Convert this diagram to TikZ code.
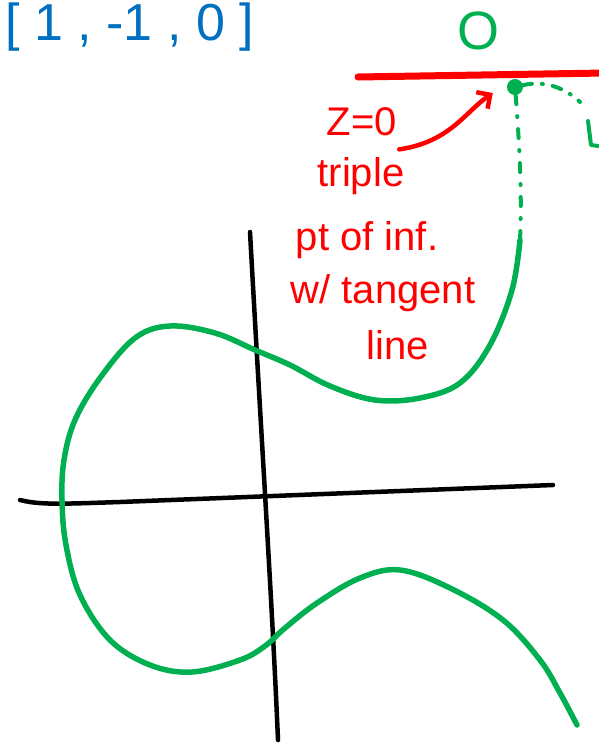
\documentclass[tikz,border=0pt]{standalone}
\usepackage{fontspec}
\setmainfont{Liberation Sans}
\definecolor{InkBlue}{RGB}{0,112,192}
\definecolor{InkGreen}{RGB}{0,176,80}
\definecolor{InkRed}{RGB}{255,0,0}
\usetikzlibrary{arrows.meta, calc, positioning}

\begin{document}
\begin{tikzpicture}[x=1pt, y=-1pt, line cap=round, line join=round,
    redtext/.style={text=InkRed, font=\fontsize{40}{40}\selectfont, inner sep=0pt}]
  \useasboundingbox (0,0) rectangle (599,745);
  % axes
  \draw[line width=4.5pt] (250,232) .. controls (262,450) and (272,600) .. (278,740);
  \draw[line width=4.5pt] (20,500) .. controls (40,505) and (60,504) .. (120,502) -- (553,485);
  % the curve
  \draw[InkGreen, line width=5.5pt] plot[smooth, tension=0.6] coordinates {
    (520,240) (512,290) (490,345) (460,383) (420,398) (375,400) (330,386) (290,365)
    (255,350) (215,333) (170,326) (135,338) (100,378) (75,420) (64,460) (62,500)
    (66,545) (80,595) (110,640) (150,665) (192,672) (240,660) (265,646) (285,628)
    (317,603) (360,578) (400,570) (450,588) (503,620) (540,660) (560,693) (577,725)};
  % line at infinity
  \draw[InkRed, line width=7pt] (358,77) -- (605,73);
  \node[circle, fill=InkGreen, inner sep=0pt, minimum size=16pt] (inf) at (515,87) {};
  \draw[InkGreen, line width=4pt, dash pattern=on 9pt off 12pt on 1pt off 12pt]
    (inf) .. controls (520,150) and (522,200) .. (520,240);
  \draw[InkGreen, line width=4pt, dash pattern=on 9pt off 10pt on 1pt off 10pt]
    (inf) .. controls (545,80) and (565,88) .. (580,102);
  \draw[InkGreen, line width=4pt] (588,121) -- (591,145) -- (598,146);
  % labels
  \node[text=InkBlue, font=\fontsize{52}{52}\selectfont, anchor=west] (coords) at (2,27) {[ 1 , -1 , 0 ]};
  \node[text=InkGreen, font=\fontsize{54}{54}\selectfont] (origin) at (478,31) {O};
  \node[redtext] (zline) at (362,122) {Z=0};
  \node[redtext] (triple) at (361,176) {triple};
  \node[redtext] (ptinf) at (367,240) {pt of inf.};
  \node[redtext] (tangent) at (383,293) {w/ tangent};
  \node[redtext] (lineword) at (398,345) {line};
  \draw[InkRed, line width=4.5pt, -{Straight Barb[length=10pt]}]
    ($(zline.south east)+(2,13)$) .. controls (450,142) and (465,112) .. ($(inf.west)+(-14,6)$);
\end{tikzpicture}
\end{document}
